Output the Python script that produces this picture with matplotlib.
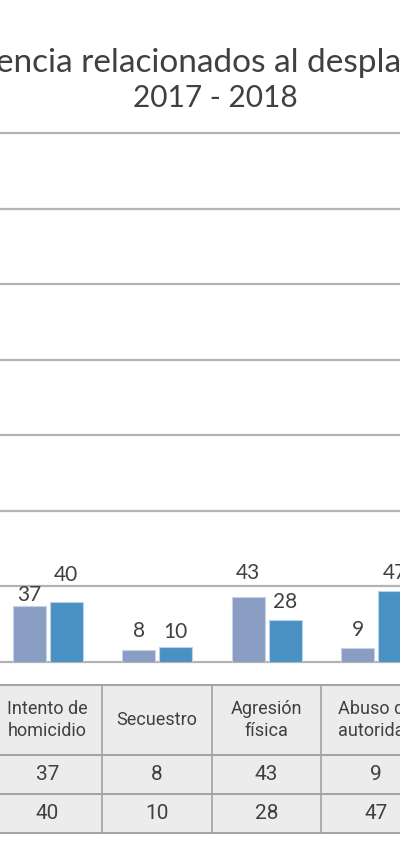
import matplotlib.pyplot as plt
from matplotlib.patches import Rectangle

categorias = ["Intento de\nhomicidio", "Secuestro", "Agresión\nfísica", "Abuso de\nautoridad"]
serie_2017 = [37, 8, 43, 9]
serie_2018 = [40, 10, 28, 47]
yticks = [0, 50, 100, 150, 200, 250, 300, 350]
titulo_1 = "encia relacionados al despla"
titulo_2 = "2017 - 2018"

# label nudges (pixels above bar top), as placed in the original
nudge_2017 = [5, 13, 18, 12]
nudge_2018 = [21, 9, 12, 12]

C_LIGHT = "#8a9dc2"
C_DARK = "#4a91c3"
C_TEXT = "#404040"
C_GRID = "#b3b3b3"
TITLE_FONT = ["Lato", "DejaVu Sans"]
NARROW_FONT = ["Roboto", "DejaVu Sans"]

W, H = 400, 865
fig = plt.figure(figsize=(W / 100, H / 100), dpi=100)

x0, step = 47.5, 109.5          # pixel centre of first group, group spacing
xlim = (-x0 / step, (W - x0) / step)

# ---- bar chart ----
top_px, base_px = 133, 662
ax = fig.add_axes([0, (H - base_px) / H, 1, (base_px - top_px) / H])
ax.set_xlim(*xlim)
ax.set_ylim(0, 350)
for t in yticks:
    ax.axhline(t, color=C_GRID, lw=1.6, clip_on=False, zorder=0)

bw = 33 / step
off = 18.5 / step
xs = list(range(len(categorias)))
ax.bar([x - off for x in xs], serie_2017, width=bw, color=C_LIGHT,
       edgecolor="#c6d3e6", linewidth=0.8, zorder=2)
ax.bar([x + off for x in xs], serie_2018, width=bw, color=C_DARK,
       edgecolor="#b9d2e8", linewidth=0.8, zorder=2)

for x, v, n in zip(xs, serie_2017, nudge_2017):
    ax.annotate(str(v), (x - off, v), xytext=(0, n * 0.72), textcoords="offset points",
                ha="center", va="baseline", fontsize=15, color=C_TEXT, family=TITLE_FONT)
for x, v, n in zip(xs, serie_2018, nudge_2018):
    ax.annotate(str(v), (x + off, v), xytext=(0, n * 0.72), textcoords="offset points",
                ha="center", va="baseline", fontsize=15, color=C_TEXT, family=TITLE_FONT)
ax.axis("off")

# ---- data table ----
t_top, t_bot = 685, 833
tab = fig.add_axes([0, (H - t_bot) / H, 1, (t_bot - t_top) / H])
tab.set_xlim(*xlim)
tab.set_ylim(t_bot - t_top, 0)
rows = [0, 70, 109, 148]
tab.add_patch(Rectangle((-2, 0), 8, rows[-1], facecolor="#ececec", edgecolor="none"))
for r in rows:
    tab.axhline(r, color="#a2a2a2", lw=1.4, clip_on=False)
for i in range(-1, len(categorias)):
    tab.axvline(i + 0.5, color="#a2a2a2", lw=1.2)

for x, name, a, b in zip(xs, categorias, serie_2017, serie_2018):
    tab.text(x, (rows[0] + rows[1]) / 2, name, ha="center", va="center", fontsize=13,
             color=C_TEXT, family=NARROW_FONT, linespacing=1.25)
    tab.text(x, (rows[1] + rows[2]) / 2, str(a), ha="center", va="center", fontsize=15,
             color=C_TEXT, family=NARROW_FONT)
    tab.text(x, (rows[2] + rows[3]) / 2, str(b), ha="center", va="center", fontsize=15,
             color=C_TEXT, family=NARROW_FONT)
tab.axis("off")

# ---- title ----
fig.text(199 / W, 1 - 72 / H, titulo_1, ha="center", va="baseline", fontsize=24,
         color=C_TEXT, family=TITLE_FONT)
fig.text(215 / W, 1 - 107 / H, titulo_2, ha="center", va="baseline", fontsize=21.5,
         color=C_TEXT, family=TITLE_FONT)

fig.savefig("out.png", dpi=100)
